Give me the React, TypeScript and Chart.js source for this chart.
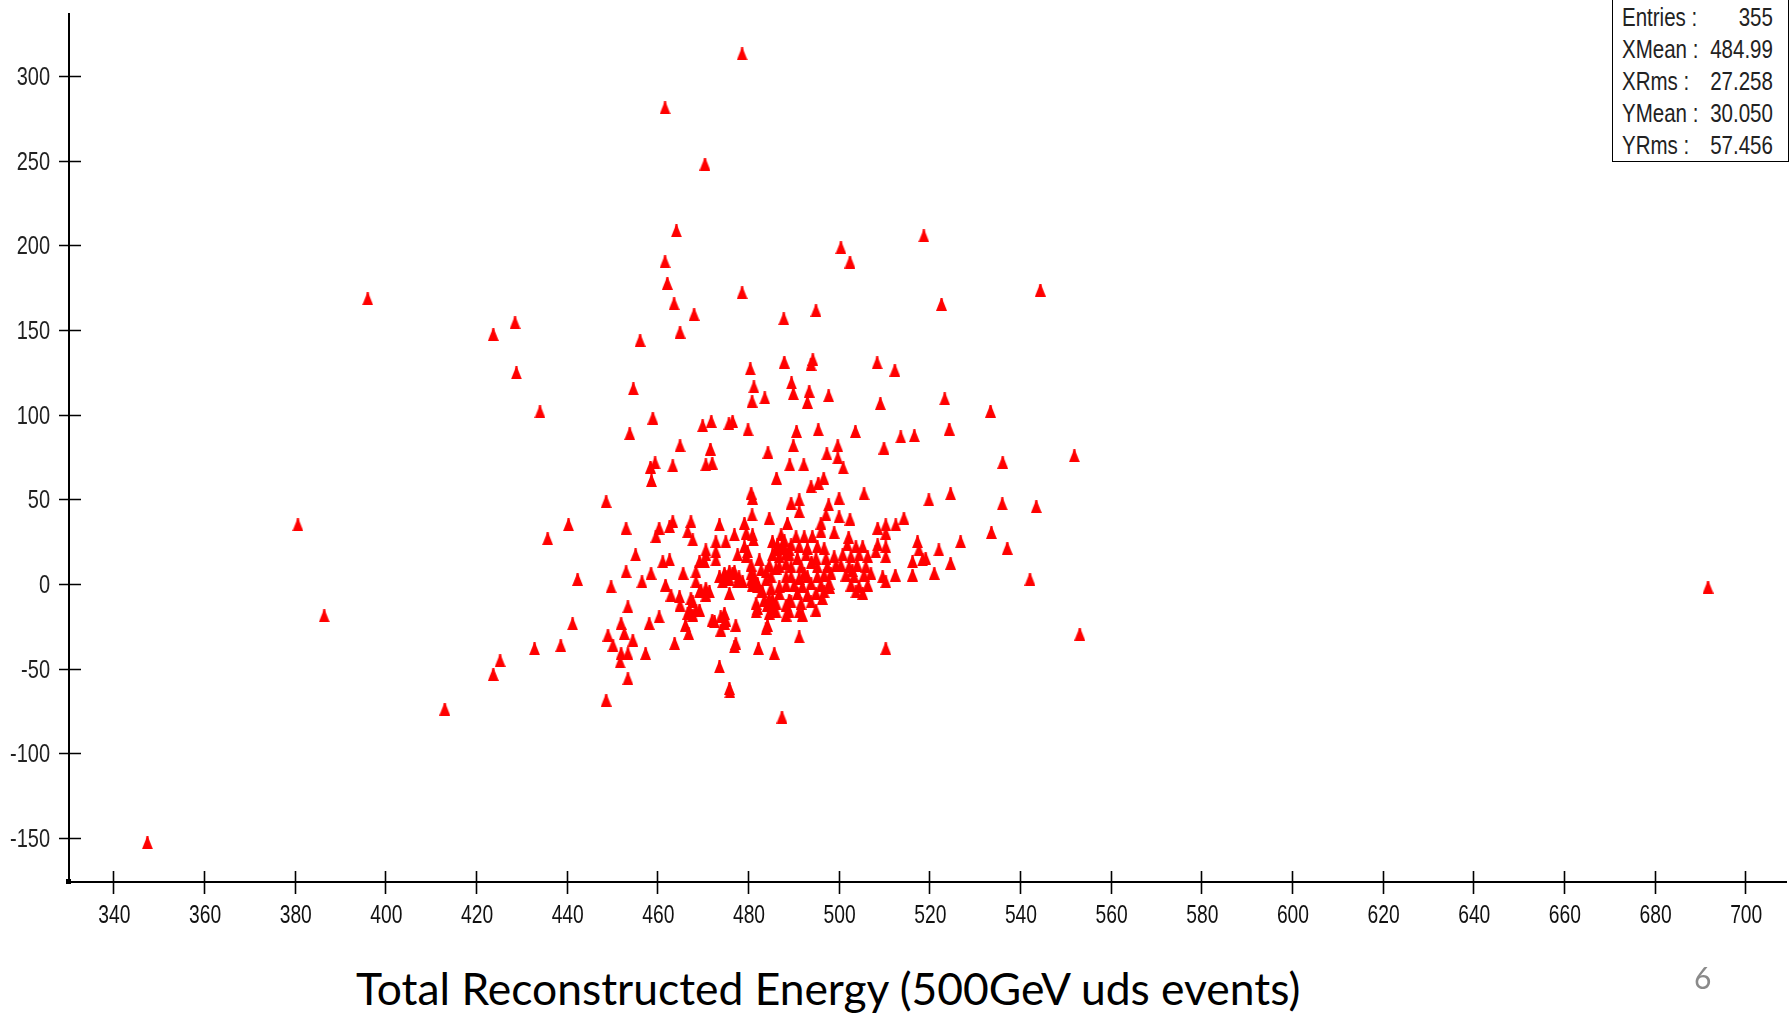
import { useEffect, useRef } from 'react';
import { Chart, registerables } from 'chart.js';

Chart.register(...registerables);

// ---- axis ticks ----
const xTickValues = [340, 360, 380, 400, 420, 440, 460, 480, 500, 520, 540, 560, 580, 600, 620, 640, 660, 680, 700];
const yTickValues = [-150, -100, -50, 0, 50, 100, 150, 200, 250, 300];
const xRange = [330.2, 709];
const yRange = [-175.9, 336.5];

// ---- statistics box ----
const statLabels = ['Entries :', 'XMean :', 'XRms :', 'YMean :', 'YRms :'];
const statValues = ['355', '484.99', '27.258', '30.050', '57.456'];

const titleText = 'Total Reconstructed Energy (500GeV uds events)';
const pageNumber = '6';

// ---- data: [total reconstructed energy, y] ----
const sparsePoints: [number, number][] = [
  [347.5, -152.7], [380.7, 35], [386.5, -18.8], [396.1, 168.4], [413.1, -73.8], [423.8, -53.4],
  [425.3, -45.2], [432.9, -38.2], [438.7, -36.3], [441.3, -23.5], [435.8, 26.8], [440.4, 35],
  [442.4, 2.7], [423.8, 147.3], [428.6, 154.3], [428.9, 124.6], [434.1, 101.7], [691.8, -1.8],
  [478.7, 312.9], [461.7, 281.1], [470.5, 247.9], [464.2, 208.5], [518.8, 205.5], [500.5, 198.6],
  [502.5, 190.1], [461.7, 190.3], [462.2, 177.5], [478.7, 172], [522.7, 165.1], [544.5, 173.5],
  [463.7, 165.5], [468.1, 159.2], [495, 161.5], [487.9, 156.6], [465, 148.7], [456.2, 143.8],
  [480.5, 127], [488, 131], [494.3, 132.5], [493.9, 129.6], [508.5, 130.6], [512.4, 126.2],
  [454.7, 115.2], [481.3, 116.4], [489.6, 118.7], [490, 112.4], [480.9, 107.9], [483.7, 109.9],
  [493.5, 113.8], [493.1, 107.3], [497.8, 111.2], [509.2, 106.5], [523.4, 109.3], [533.5, 102],
  [459, 98], [453.9, 88.8], [470, 93.5], [471.9, 96], [475.8, 94.7], [476.6, 96],
  [480, 91.1], [490.7, 90.1], [495.5, 91.1], [503.7, 90.1], [524.4, 91.5], [513.7, 86.8],
  [516.7, 87.6], [465, 81.7], [471.7, 79.7], [484.4, 77.7], [490, 81.7], [499.8, 81.7],
  [497.4, 76.9], [510, 80.3], [499.8, 74.4], [501, 68.5], [459.5, 71.5], [458.5, 69],
  [463.4, 69.8], [470.7, 70.4], [472.1, 71.4], [458.7, 61.1], [489.2, 70.4], [492.3, 70.4],
  [536.2, 71.8], [552, 75.7], [486.3, 62.5], [493.9, 57.6], [495.5, 59.6], [496.7, 62.5],
];

const coreLeftPoints: [number, number][] = [
  [448.7, 48.7], [453.1, 33], [449.8, -1.6], [455.2, 17.2], [453.1, 7.3], [456.6, 1.4],
  [458.6, 6.3], [453.5, -13.4], [452, -23.3], [458.2, -23.3], [449.1, -30.2], [450.2, -36.1],
  [452.7, -29.2], [454.6, -33.1], [452, -41], [453.5, -41], [451.8, -46], [457.4, -41],
  [453.5, -55.8], [448.7, -68.6], [460.4, -19.3], [463.8, -35.1],
  [459.7, 28], [460.4, 33], [462.7, 33.9], [463.4, 36.9], [467.4, 36.9], [466.7, 30.9],
  [467.8, 26], [473.7, 34.9], [472.9, 25], [475.1, 25], [477, 29], [479.2, 35.9],
  [480.7, 53.7], [481, 50.7], [480.9, 40.8], [479.6, 30], [481, 29], [481.2, 26],
  [484.7, 38.9], [488.7, 35.9],
  [461.2, 13.2], [462.7, 14.2], [461.8, -0.6], [463, -6.5], [464.9, -7.5], [465, -12.4],
  [465.7, 6.3], [467.4, -8.5], [467.1, -15.4], [467.8, -18.3], [466.7, -17.3], [466.2, -24.3],
  [466.9, -29.2], [468.5, 7.3], [469.3, 13.2], [470.7, 20.1], [470.4, 13.2], [469.3, -4.6],
  [470.7, -6.5], [471.5, -4.6], [469.3, -15.4], [472.9, 19.1], [472.9, 14.2], [473.7, 4.3],
  [475.1, 4.3], [476.6, 6.3], [478, 4.3], [475.9, 2.4], [477.7, 1.4], [475.9, -5.5],
  [472.6, -22.3], [474, -19.3], [474.8, -17.3], [474.8, -23.3], [474, -27.2], [477.3, -24.3],
  [477.3, -35.1], [477, -37.1], [473.7, -48.9], [475.9, -61.7], [476, -63.7], [479.6, 16.2],
  [477.7, 17.2], [479.2, 22.1], [480.7, 11.2], [482.5, 14.2], [482.9, 8.3], [481, 1.4],
  [480.7, 6.3], [482.1, -1.6], [482.9, -4.6], [484, 2.4], [481.8, -11.4], [481.8, -16.4],
  [483.6, -9.5], [484.3, -12.4], [485.4, -9.5], [485.4, -14.4], [484.7, -17.3], [486.2, -16.4],
  [486.9, -5.5], [484.3, -24.3], [484, -26.2], [482.3, -38], [485.8, -41], [487.5, -78.5],
  [485.4, 25], [486.2, 20.1], [486.9, 16.2], [485.4, 17.2], [487.3, 29], [487.6, 23.1],
  [486.9, 10.2], [488.4, 12.2], [488.4, 4.3], [489.1, -9.5], [489.1, -16.4], [489.1, 20.1],
  [488, 25.5], [470.7, 17.2], [479.9, 19.1], [474.8, 6.3], [475.9, 7.3], [477, 7.3],
  [474.4, 1.4], [478.8, 1.4], [481.4, 4.3], [482.1, 0.4], [484, 7.3], [484.7, 11.2],
  [485.1, 4.3], [486.2, 9.3], [486.5, 23.1], [487.6, 21.1], [488.4, 18.2], [486.9, -1.6],
  [488.4, -0.6], [485.1, -2.5], [483.2, -4.6], [484.7, -8.5], [486.2, -11.4], [482.1, -14.4],
  [488.4, -12.4], [488.4, -18.3], [468.5, 1.4], [469.6, -3.6], [470.7, -2.5], [467.8, -10.5],
  [468.5, -15.4], [472.1, -21.3], [475.1, -21.3], [480.7, 2.4], [481, -0.6],
];

const coreRightPoints: [number, number][] = [
  [500.1, 50.7], [505.6, 53.3], [519.9, 49.7], [524.7, 53.3], [536.1, 47.3], [543.6, 45.7],
  [533.7, 30.4], [537.2, 21.1], [542.2, 2.8], [553.2, -29.6], [510.4, -38], [491.3, 49.7],
  [491.3, 42.8], [489.5, 47.8], [497.8, 46.7], [497.2, 40.8], [500.1, 39.8], [502.5, 38.3],
  [496.1, 35.9], [496.1, 30.9], [499, 30.4], [502.2, 27.6], [508.6, 33], [510.4, 34.9],
  [510.4, 30], [512.6, 34.9], [514.4, 38.9], [508.6, 23.1], [510.4, 22.1], [510.4, 16.2],
  [508.2, 19.1], [517.4, 25], [517.7, 20.1], [519.2, 15.2], [516.3, 13.2], [518.5, 14.2],
  [522.1, 20.1], [526.9, 25], [524.7, 12.2], [509.7, 4.3], [510.4, 1.4], [512.5, 5.3],
  [516.3, 5.3], [521.1, 6.3],
  [490.6, 28], [492.4, 28], [494.2, 28], [489.5, 23.1], [491.3, 22.1], [493.1, 21.1],
  [495.3, 22.1], [496.8, 21.1], [489.1, 17.2], [490.9, 15.2], [492.8, 17.2], [495, 15.2],
  [497.2, 15.2], [499, 16.2], [489.5, 10.2], [491.7, 10.2], [495.3, 10.2], [497.5, 10.2],
  [499.4, 11.2], [489.5, 4.3], [491.3, 3.4], [493.1, 4.3], [495.3, 4.3], [496.8, 5.3],
  [498.3, 6.3], [490.2, -0.6], [492, -1.6], [493.9, 0.4], [496.1, -0.6], [497.9, 0.4],
  [490.9, -5.5], [493.1, -6.5], [495, -5.5], [496.8, -4.6], [489.5, -10.5], [491.7, -11.4],
  [493.9, -10.5], [491.3, -16.4], [492.4, 6.3], [492, -18.3], [491.3, -31.2], [495, -15.4],
  [496.4, -8.5],
  [501.9, 23.1], [503.8, 22.1], [505.3, 22.1], [500.9, 17.2], [502.7, 16.2], [504.5, 17.2],
  [506.4, 16.2], [500.5, 11.2], [502.3, 10.2], [504.1, 11.2], [506, 10.2], [501.6, 5.3],
  [503.4, 4.3], [505.6, 5.3], [507.1, 6.3], [502.7, -0.6], [504.5, -1.6], [506.4, -0.6],
  [503.8, -4.6], [505.3, -5.5], [494, 13], [498, -2], [503, 8],
];

const SANS = "'Liberation Sans', Arial, sans-serif";
const CANVAS_W = 1791;
const CANVAS_H = 960;
const AXIS_X = 69; // pixel position of the vertical axis line
const AXIS_Y = 882; // pixel position of the horizontal axis line

function makeMarker(): HTMLCanvasElement {
  const c = document.createElement('canvas');
  c.width = 11;
  c.height = 13;
  const g = c.getContext('2d')!;
  g.fillStyle = '#ff0000';
  g.beginPath();
  g.moveTo(4.5, 0);
  g.lineTo(6.5, 0);
  g.lineTo(7.1, 3.2);
  g.lineTo(11, 13);
  g.lineTo(0, 13);
  g.lineTo(3.9, 3.2);
  g.closePath();
  g.fill();
  return c;
}

const axisDecor = {
  id: 'axisDecor',
  afterDraw(chart: any) {
    const { ctx, chartArea, scales } = chart;
    const xs = scales.x;
    const ys = scales.y;
    ctx.save();
    // tick marks crossing the axis lines
    ctx.strokeStyle = '#000';
    ctx.lineWidth = 1.6;
    ctx.beginPath();
    for (const v of yTickValues) {
      const py = Math.round(ys.getPixelForValue(v)) + 0.5;
      ctx.moveTo(chartArea.left - 10, py);
      ctx.lineTo(chartArea.left + 12, py);
    }
    for (const v of xTickValues) {
      const px = Math.round(xs.getPixelForValue(v)) + 0.5;
      ctx.moveTo(px, chartArea.bottom - 11);
      ctx.lineTo(px, chartArea.bottom + 12);
    }
    ctx.stroke();
    ctx.fillStyle = '#000';
    ctx.fillRect(chartArea.left - 3, chartArea.bottom - 3, 5, 5);

    // condensed tick labels
    ctx.fillStyle = '#222';
    ctx.font = `25px ${SANS}`;
    ctx.textAlign = 'right';
    ctx.textBaseline = 'alphabetic';
    for (const v of yTickValues) {
      const py = ys.getPixelForValue(v);
      ctx.save();
      ctx.translate(chartArea.left - 19, py + 9);
      ctx.scale(0.8, 1);
      ctx.fillText(String(v), 0, 0);
      ctx.restore();
    }
    ctx.fillStyle = '#111';
    ctx.font = `26px ${SANS}`;
    ctx.textAlign = 'center';
    for (const v of xTickValues) {
      const px = xs.getPixelForValue(v);
      ctx.save();
      ctx.translate(px + 1, chartArea.bottom + 41);
      ctx.scale(0.74, 1);
      ctx.fillText(String(v), 0, 0);
      ctx.restore();
    }
    ctx.restore();
  },
};

export default function App() {
  const canvasRef = useRef<HTMLCanvasElement | null>(null);

  useEffect(() => {
    const canvas = canvasRef.current;
    if (!canvas) return;
    const marker = makeMarker();
    const points = [...sparsePoints, ...coreLeftPoints, ...coreRightPoints].map(([x, y]) => ({ x, y }));
    const chart = new Chart(canvas, {
      type: 'scatter',
      data: {
        datasets: [
          {
            data: points,
            pointStyle: marker as any,
            pointRadius: 5,
            backgroundColor: '#ff0000',
            borderWidth: 0,
          },
        ],
      },
      options: {
        responsive: false,
        animation: false,
        layout: { padding: { left: 0, top: 14, right: 3, bottom: 0 } },
        plugins: { legend: { display: false }, tooltip: { enabled: false } },
        scales: {
          x: {
            type: 'linear',
            min: xRange[0],
            max: xRange[1],
            afterBuildTicks: (s: any) => {
              s.ticks = xTickValues.map((v) => ({ value: v }));
            },
            afterFit: (s: any) => {
              s.height = CANVAS_H - AXIS_Y;
              s.paddingLeft = 0;
              s.paddingRight = 0;
            },
            grid: { display: false, drawTicks: false },
            border: { display: true, color: '#000', width: 2 },
            ticks: { display: false },
          },
          y: {
            type: 'linear',
            min: yRange[0],
            max: yRange[1],
            afterBuildTicks: (s: any) => {
              s.ticks = yTickValues.map((v) => ({ value: v }));
            },
            afterFit: (s: any) => {
              s.width = AXIS_X;
              s.paddingTop = 0;
              s.paddingBottom = 0;
            },
            grid: { display: false, drawTicks: false },
            border: { display: true, color: '#000', width: 2 },
            ticks: { display: false },
          },
        },
      },
      plugins: [axisDecor],
    });
    return () => {
      chart.destroy();
    };
  }, []);

  return (
    <div
      style={{
        position: 'absolute',
        left: 0,
        top: 0,
        width: 1791,
        height: 1015,
        background: '#fff',
        overflow: 'hidden',
      }}
    >
      <canvas
        ref={canvasRef}
        width={CANVAS_W}
        height={CANVAS_H}
        style={{ position: 'absolute', left: 0, top: 0, width: CANVAS_W, height: CANVAS_H, display: 'block' }}
      />
      <div
        style={{
          position: 'absolute',
          left: 1612,
          top: -2,
          width: 177,
          height: 164,
          boxSizing: 'border-box',
          border: '1.5px solid #000',
          background: '#fff',
          overflow: 'hidden',
        }}
      >
        <div
          style={{
            position: 'absolute',
            left: 9,
            top: 2,
            width: 184,
            transform: 'scaleX(0.82)',
            transformOrigin: '0 0',
            fontFamily: SANS,
            fontSize: 25,
            color: '#222',
          }}
        >
          {statLabels.map((label, i) => (
            <div
              key={label}
              style={{ display: 'flex', justifyContent: 'space-between', height: 32, lineHeight: '32px', whiteSpace: 'pre' }}
            >
              <span>{label}</span>
              <span>{statValues[i]}</span>
            </div>
          ))}
        </div>
      </div>
      <div
        style={{
          position: 'absolute',
          left: 356,
          top: 966,
          fontFamily: "Lato, 'Open Sans', sans-serif",
          fontSize: 44.4,
          lineHeight: '44px',
          color: '#000',
          whiteSpace: 'nowrap',
        }}
      >
        {titleText}
      </div>
      <div
        style={{
          position: 'absolute',
          left: 1694,
          top: 962,
          fontFamily: "Lato, 'Open Sans', sans-serif",
          fontSize: 30,
          lineHeight: '30px',
          color: '#8a8a8a',
        }}
      >
        {pageNumber}
      </div>
    </div>
  );
}
